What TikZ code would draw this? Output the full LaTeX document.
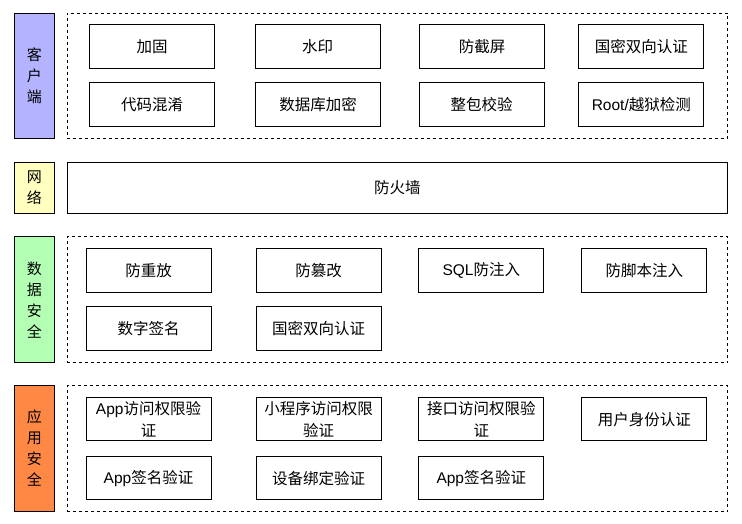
\documentclass[tikz,border=0pt]{standalone}
\usepackage{fontspec}
\setmainfont{Noto Sans CJK SC}
\newfontfamily\lat{Liberation Sans}
\begin{document}
\begin{tikzpicture}[x=1pt,y=-1pt,
  lbl/.style={draw=black,line width=1pt,anchor=north west,inner sep=0pt,align=center,font=\fontsize{15}{21}\selectfont},
  grp/.style={draw=black,line width=0.9pt,dash pattern=on 3pt off 3pt,anchor=north west,inner sep=0pt},
  item/.style={draw=black,line width=1pt,anchor=north west,inner sep=0pt,minimum width=125pt,align=center,font=\fontsize{15.5}{21.5}\selectfont},
]
\useasboundingbox (0,0) rectangle (742,523);
\definecolor{cli}{RGB}{179,179,255}
\definecolor{net}{RGB}{255,255,192}
\definecolor{dat}{RGB}{179,255,179}
\definecolor{app}{RGB}{255,136,68}
% client
\node[lbl,fill=cli,minimum width=40pt,minimum height=125.5pt] (lc) at (14,12.5) {客\\户\\端};
\node[grp,minimum width=660.8pt,minimum height=125.5pt] (gc) at (66.5,12.5) {};
\node[item,minimum height=44pt] (c1) at (89,24) {加固};
\node[item,minimum height=44pt] (c2) at (254.5,24) {水印};
\node[item,minimum height=44pt] (c3) at (419,24) {防截屏};
\node[item,minimum height=44pt] (c4) at (578.3,24) {国密双向认证};
\node[item,minimum height=44pt] (c5) at (89,82.3) {代码混淆};
\node[item,minimum height=44pt] (c6) at (255,82.3) {数据库加密};
\node[item,minimum height=44pt] (c7) at (418.5,82.3) {整包校验};
\node[item,minimum height=44pt] (c8) at (578.3,82.3) {{\lat Root/}越狱检测};
% network
\node[lbl,fill=net,minimum width=40pt,minimum height=51.5pt] (ln) at (14,161.5) {网\\络};
\node[lbl,minimum width=660.8pt,minimum height=51.5pt,font=\fontsize{15.5}{21.5}\selectfont] (fw) at (66.5,161.5) {防火墙};
% data
\node[lbl,fill=dat,minimum width=40pt,minimum height=126pt] (ld) at (14,236.3) {数\\据\\安\\全};
\node[grp,minimum width=660.8pt,minimum height=126pt] (gd) at (66.5,236.3) {};
\node[item,minimum height=43.7pt] (d1) at (85.5,248.3) {防重放};
\node[item,minimum height=43.7pt] (d2) at (255.5,248.3) {防篡改};
\node[item,minimum height=43.7pt] (d3) at (418.3,248.3) {{\lat SQL}防注入};
\node[item,minimum height=43.7pt] (d4) at (581.3,248.3) {防脚本注入};
\node[item,minimum height=43.7pt] (d5) at (85.5,306.3) {数字签名};
\node[item,minimum height=43.7pt] (d6) at (255.5,306.3) {国密双向认证};
% app
\node[lbl,fill=app,minimum width=40pt,minimum height=126pt] (la) at (14,385) {应\\用\\安\\全};
\node[grp,minimum width=660.8pt,minimum height=126.3pt] (ga) at (66.5,385) {};
\node[item,minimum height=43pt] (a1) at (85.5,397.3) {{\lat App}访问权限验\\证};
\node[item,minimum height=43pt] (a2) at (255.5,397.3) {小程序访问权限\\验证};
\node[item,minimum height=43pt] (a3) at (418.3,397.3) {接口访问权限验\\证};
\node[item,minimum height=43pt] (a4) at (581.3,397.3) {用户身份认证};
\node[item,minimum height=43pt] (a5) at (85.5,456.3) {{\lat App}签名验证};
\node[item,minimum height=43pt] (a6) at (255.5,456.3) {设备绑定验证};
\node[item,minimum height=43pt] (a7) at (418.3,456.3) {{\lat App}签名验证};
\end{tikzpicture}
\end{document}
